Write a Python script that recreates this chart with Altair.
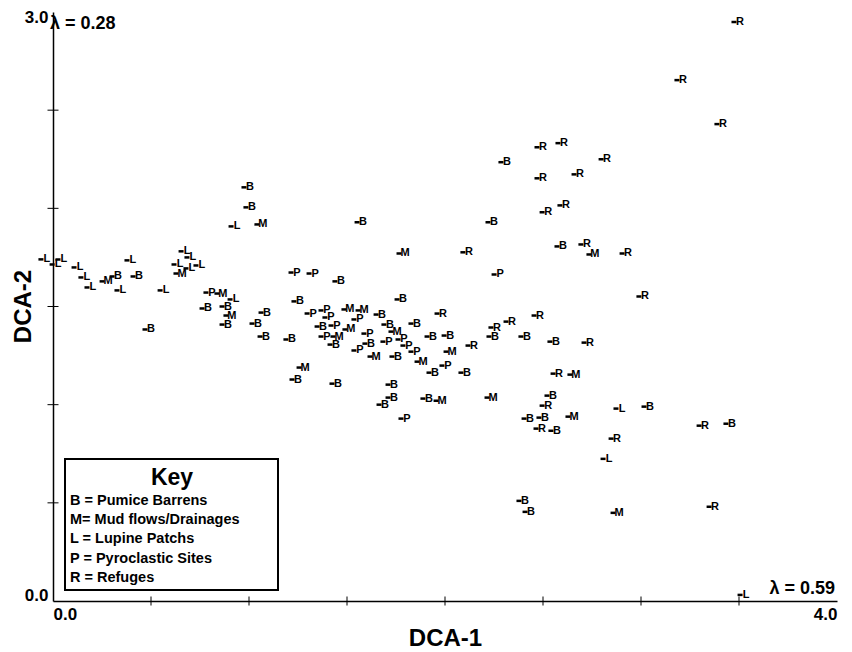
import altair as alt
import pandas as pd

# Site type letters and DCA scores
site = ["L","L","L","L","L","L","M","B","L","B","L","L","B","L","L","L","L","L","M","P",
        "M","L","B","B","M","B","B","B","B","B","B","L","M","B","P","P","B","B","B","M",
        "B","P","P","P","M","M","P","B","B","B","B","P","M","M","P","M","P","B","B","P",
        "P","P","P","M","B","P","M","M","B","B","B","B","B","B","M","M","P","R","B","B",
        "M","P","B","B","R","R","B","R","R","B","B","R","R","P","B","B","R","R","R","R",
        "R","R","R","B","R","M","R","R","R","R","R","R","M","B","R","B","B","M","R","B",
        "L","B","R","B","R","L","B","B","M","R","L"]
dca1 = [-0.031,0.026,0.056,0.138,0.173,0.204,0.281,0.332,0.408,0.439,0.357,0.577,0.500,0.684,0.714,0.648,0.709,0.760,0.658,0.811,
        0.867,0.934,0.791,0.893,0.913,0.893,1.092,1.046,1.087,1.005,1.015,0.939,1.071,1.582,1.245,1.337,1.469,1.260,1.786,1.796,
        1.219,1.327,1.398,1.418,1.515,1.587,1.566,1.679,1.719,1.857,1.378,1.449,1.520,1.755,1.398,1.459,1.617,1.444,1.622,1.714,
        1.791,1.816,1.566,1.648,1.760,1.857,1.888,1.286,1.250,1.454,1.740,1.740,1.694,1.918,1.985,2.245,1.806,1.990,1.939,2.026,
        2.036,2.015,1.949,2.112,2.148,2.265,2.255,2.342,2.485,2.418,2.566,2.740,2.122,2.281,2.250,2.316,2.500,2.607,2.827,2.500,
        2.689,2.526,2.617,2.602,2.724,2.765,2.934,3.020,3.214,3.418,3.505,2.582,2.668,2.551,2.526,2.434,2.510,2.658,2.495,2.571,
        2.903,3.046,3.327,3.464,2.878,2.837,2.408,2.439,2.888,3.378,3.536]
dca2 = [1.740,1.714,1.740,1.699,1.648,1.597,1.628,1.653,1.735,1.653,1.582,1.582,1.383,1.781,1.750,1.714,1.694,1.709,1.668,1.571,
        1.566,1.536,1.490,1.500,1.454,1.408,1.469,1.413,1.347,2.107,2.005,1.908,1.918,1.929,1.673,1.668,1.628,1.526,1.536,1.770,
        1.332,1.464,1.480,1.444,1.485,1.480,1.434,1.459,1.408,1.413,1.398,1.403,1.383,1.372,1.347,1.347,1.362,1.306,1.311,1.321,
        1.332,1.301,1.276,1.245,1.245,1.270,1.219,1.189,1.128,1.107,1.102,1.036,1.000,1.031,1.020,1.036,0.929,1.464,1.347,1.352,
        1.270,1.199,1.163,1.163,1.301,1.393,1.347,1.423,1.454,1.347,1.321,1.316,1.776,1.663,1.929,2.235,2.311,2.332,2.250,2.153,
        2.173,1.980,2.015,1.806,1.816,1.765,1.770,1.551,2.653,2.429,2.949,1.158,1.153,1.046,0.995,0.929,0.934,0.939,0.878,0.867,
        0.980,0.990,0.893,0.903,0.827,0.724,0.510,0.454,0.449,0.480,0.031]

x_ticks = [0.5, 1.0, 1.5, 2.0, 2.5, 3.0, 3.5]
y_ticks = [0.5, 1.0, 1.5, 2.0, 2.5]
x_labels = [0.0, 4.0]
y_labels = [0.0, 3.0]
key_title = "Key"
key_lines = ["B = Pumice Barrens", "M= Mud flows/Drainages", "L = Lupine Patchs",
             "P = Pyroclastic Sites", "R = Refuges"]
lambda1 = "λ = 0.28"
lambda2 = "λ = 0.59"

df = pd.DataFrame({"site": site, "dca1": dca1, "dca2": dca2})
FONT = "Liberation Sans"

xscale = alt.Scale(domain=[0, 4], nice=False, zero=False)
yscale = alt.Scale(domain=[0, 3], nice=False, zero=False)

xaxis = alt.Axis(values=x_labels, format=".1f", labelFlush=True, ticks=False, grid=False,
                 domainColor="black", domainWidth=1.5, labelFont=FONT, labelFontSize=17,
                 labelFontWeight="bold", labelColor="black", labelPadding=5,
                 titleFont=FONT, titleFontSize=24, titleFontWeight="bold", titleColor="black",
                 titlePadding=4)
yaxis = alt.Axis(values=y_labels, format=".1f", labelFlush=True, labelFlushOffset=3,
                 ticks=False, grid=False, domainColor="black", domainWidth=1.5,
                 labelFont=FONT, labelFontSize=17, labelFontWeight="bold", labelColor="black",
                 labelPadding=5, titleFont=FONT, titleFontSize=24, titleFontWeight="bold",
                 titleColor="black", titleX=-30, titleY=294, titleBaseline="middle",
                 titleAlign="center")


def X(field):
    return alt.X(field, scale=xscale, axis=xaxis, title="DCA-1")


def Y(field):
    return alt.Y(field, scale=yscale, axis=yaxis, title="DCA-2")


letters = alt.Chart(df).mark_text(font=FONT, fontWeight="bold", fontSize=11, color="black",
                                  baseline="middle", align="center").encode(
    x=X("dca1:Q"), y=Y("dca2:Q"), text="site:N",
)

dashes = alt.Chart(df).mark_tick(orient="horizontal", size=5, thickness=2.5, color="black",
                                 xOffset=-6, opacity=1).encode(
    x=X("dca1:Q"), y=Y("dca2:Q"),
)

xt = alt.Chart(pd.DataFrame({"v": x_ticks})).mark_tick(orient="vertical", size=9, thickness=1,
                                                        color="black", opacity=1).encode(
    x=X("v:Q"),
    y=alt.YDatum(0, scale=yscale, axis=yaxis, title="DCA-2"),
)
yt = alt.Chart(pd.DataFrame({"v": y_ticks})).mark_tick(orient="horizontal", size=11, thickness=1,
                                                        color="black", opacity=1).encode(
    y=Y("v:Q"),
    x=alt.XDatum(0, scale=xscale, axis=xaxis, title="DCA-1"),
)

one = pd.DataFrame({"k": [0]})
key_box = alt.Chart(one).mark_rect(fill="white", stroke="black", strokeWidth=2).encode(
    x=alt.value(12), x2=alt.value(225), y=alt.value(447), y2=alt.value(578))
key_head = alt.Chart(one).mark_text(text=key_title, font=FONT, fontWeight="bold", fontSize=23,
                                    color="black", align="center", baseline="middle").encode(
    x=alt.value(119), y=alt.value(466))
key_text = alt.Chart(one).mark_text(text=key_lines, font=FONT, fontWeight="bold", fontSize=14.5,
                                    lineHeight=19.2, color="black", align="left",
                                    baseline="middle").encode(
    x=alt.value(17), y=alt.value(489))

lam1 = alt.Chart(one).mark_text(text=lambda1, font=FONT, fontWeight="bold", fontSize=18,
                                color="black", align="left", baseline="middle").encode(
    x=alt.value(-3), y=alt.value(12))
lam2 = alt.Chart(one).mark_text(text=lambda2, font=FONT, fontWeight="bold", fontSize=18,
                                color="black", align="right", baseline="middle").encode(
    x=alt.value(782), y=alt.value(577))

chart = alt.layer(letters, dashes, xt, yt, key_box, key_head, key_text, lam1, lam2).properties(
    width=784, height=589,
    autosize=alt.AutoSizeParams(type="none"),
    padding={"left": 45, "top": 4, "right": 7, "bottom": 48},
    background="white",
).configure_view(stroke=None)

chart.save("out.html", embed_options={"renderer": "svg", "actions": False})
